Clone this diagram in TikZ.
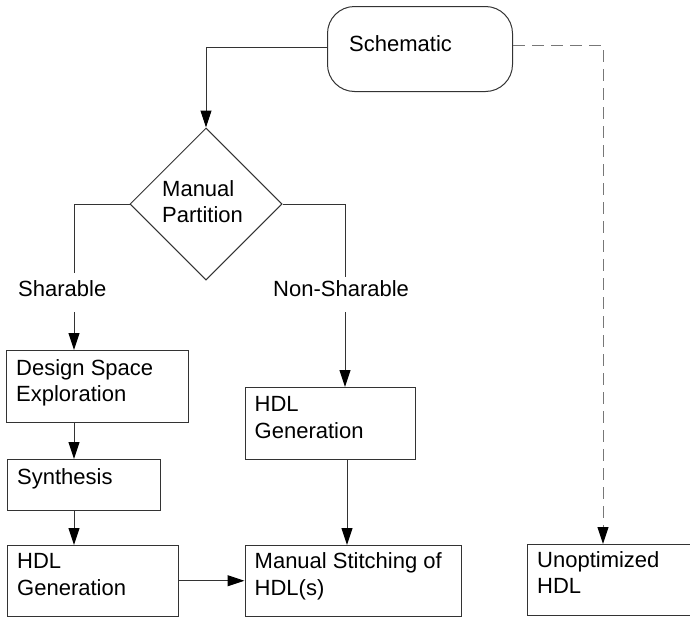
\documentclass[tikz,border=0pt]{standalone}
\usepackage{fontspec}
\setmainfont{Liberation Sans}
\usetikzlibrary{shapes.geometric,arrows.meta}
\definecolor{lc}{HTML}{333333}
\definecolor{dc}{HTML}{777777}
\newcommand\twolines[2]{\vtop{\hbox{\strut #1}\hbox{\strut #2}}}
\begin{document}
\begin{tikzpicture}[x=1pt,y=-1pt,
  every node/.style={font=\fontsize{22}{26.7}\selectfont},
  box/.style={draw=lc, line width=1pt, anchor=north west, inner sep=0pt},
  txt/.style={anchor=base west, inner sep=0pt, text=black},
  conn/.style={draw=lc, line width=1pt},
  arr/.style={conn, -{Triangle[length=17pt,width=11pt,color=black]}},
  dashconn/.style={draw=dc, line width=1pt, dash pattern=on 12pt off 7pt, -{Triangle[length=17pt,width=11pt,color=black]}},
]
\useasboundingbox (0,0) rectangle (690,616);
\clip (0,0) rectangle (690,616);
\fill[white] (0,0) rectangle (690,616);

% nodes
\node[box, rounded corners=27pt, minimum width=185pt, minimum height=85pt] (sch) at (327,6) {};
\node[txt] (scht) at (349,51) {Schematic};

\node[draw=lc, line width=1pt, diamond, shape aspect=1, minimum width=152pt, minimum height=152pt, inner sep=0pt] (part) at (206,204) {};
\node[txt] (partt) at (162,196) {\twolines{Manual}{Partition}};

\node[box, minimum width=182pt, minimum height=72pt] (dse) at (6,350) {};
\node[txt] (dset) at ([shift={(10,25)}]dse.north west) {\twolines{Design Space}{Exploration}};

\node[box, minimum width=153pt, minimum height=51pt] (syn) at (7,459) {};
\node[txt] (synt) at ([shift={(10,25)}]syn.north west) {Synthesis};

\node[box, minimum width=171pt, minimum height=70.5pt] (hdla) at (7,545) {};
\node[txt] (hdlat) at ([shift={(10,23.5)}]hdla.north west) {\twolines{HDL}{Generation}};

\node[box, minimum width=170.5pt, minimum height=72pt] (hdlb) at (244.5,387) {};
\node[txt] (hdlbt) at ([shift={(10,24.5)}]hdlb.north west) {\twolines{HDL}{Generation}};

\node[box, minimum width=216.5pt, minimum height=70.5pt] (ms) at (244.5,545) {};
\node[txt] (mst) at ([shift={(10,23.5)}]ms.north west) {\twolines{Manual Stitching of}{HDL(s)}};

\node[anchor=north west, inner sep=0pt, minimum width=162.5pt, minimum height=71pt] (un) at (527.5,544) {};
\coordinate (ue) at (700,0);
\draw[conn] (ue |- un.north) -- (un.north west) -- (un.south west) -- (ue |- un.south);
\node[txt] (unt) at ([shift={(9.5,23)}]un.north west) {\twolines{Unoptimized}{HDL}};

\node[txt] (shar) at (18,296) {Sharable};
\node[txt] (nshar) at (273,296) {Non-Sharable};

% coordinates
\coordinate (s1) at (74,273);
\coordinate (s2) at (74,312);
\coordinate (n1) at (345,277);
\coordinate (n2) at (345,312);
\coordinate (mx) at (347,0);
\coordinate (dx) at (603,0);

% connectors
\draw[arr] ([yshift=1.5pt]sch.west) -| (part.north);
\draw[conn] (part.west) -| (s1);
\draw[arr] (s2) -- (s2 |- dse.north);
\draw[conn] (part.east) -| (n1);
\draw[arr] (n2) -- (n2 |- hdlb.north);
\draw[arr] (s2 |- dse.south) -- (s2 |- syn.north);
\draw[arr] (s2 |- syn.south) -- (s2 |- hdla.north);
\draw[arr] (hdla.east) -- (hdla.east -| ms.west);
\draw[arr] (mx |- hdlb.south) -- (mx |- ms.north);
\draw[dashconn] ([yshift=4pt]sch.east) -| (dx |- un.north);
\end{tikzpicture}
\end{document}
